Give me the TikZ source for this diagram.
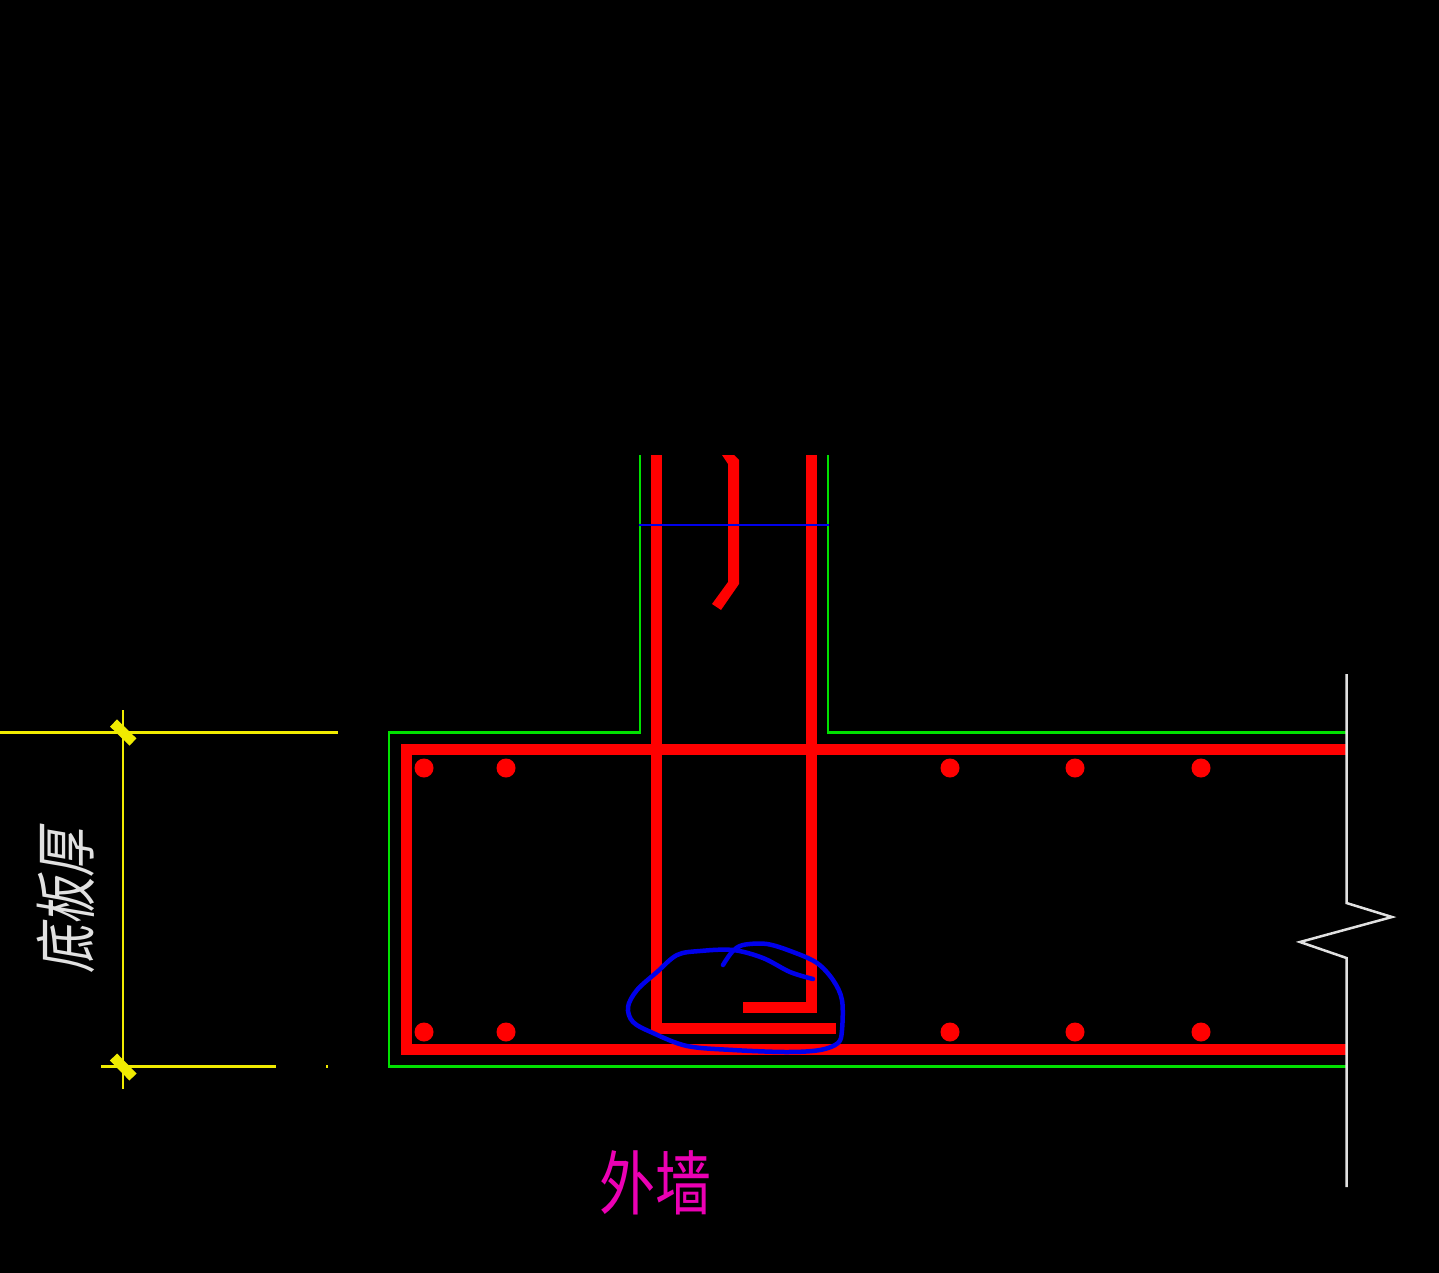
\documentclass[tikz,border=0pt]{standalone}
\usepackage{fontspec}
\newfontfamily\cjkplain{Noto Sans CJK SC}
\newfontfamily\cjkslant[FakeSlant=0.22]{Noto Sans CJK SC}
\definecolor{cadgreen}{RGB}{0,225,0}
\definecolor{cadred}{RGB}{255,0,0}
\definecolor{cadblue}{RGB}{0,0,235}
\definecolor{cadyellow}{RGB}{240,235,0}
\definecolor{cadwhite}{RGB}{225,225,225}
\definecolor{cadmag}{RGB}{235,0,180}
\tikzset{
  outline/.style={draw=cadgreen,line width=2.6pt},
  rebar/.style={draw=cadred,line width=11pt},
  bardot/.style={circle,fill=cadred,inner sep=0pt,minimum size=19pt},
  dimline/.style={draw=cadyellow,line width=2.5pt},
  dimtick/.style={draw=cadyellow,line width=10pt},
  breakline/.style={draw=cadwhite,line width=2.5pt},
  pen/.style={draw=cadblue,line width=4.5pt,line cap=round,line join=round}
}
\begin{document}
\begin{tikzpicture}[x=1pt,y=-1pt]
\useasboundingbox (0,0) rectangle (1439,1273);
\fill[black] (0,0) rectangle (1439,1273);
% concrete outline
\draw[outline] (640,455) -- (640,732.5) -- (389,732.5) -- (389,1066.5) -- (1346,1066.5);
\draw[outline] (828,455) -- (828,732.5) -- (1346,732.5);
% slab reinforcement
\draw[rebar,line join=miter] (1346,749) -- (406.5,749) -- (406.5,1049) -- (1346,1049);
% wall reinforcement
\draw[rebar,line join=miter] (656.5,455) -- (656.5,1028) -- (836,1028);
\draw[rebar,line join=miter] (811.5,455) -- (811.5,1007.5) -- (743,1007.5);
% hook
\fill[cadred] (722,455) -- (734,455) -- (739,460) -- (739,584) -- (721,610) -- (712,604) -- (728,582) -- (728,464) -- cycle;
% blue section line
\draw[draw=cadblue,line width=2pt] (639,524.5) -- (829,524.5);
% bars
\foreach \px/\nm in {424/a,506/b,950/c,1075/d,1201/e}{
  \node[bardot] (top\nm) at (\px,768) {};
  \node[bardot] (bot\nm) at (\px,1032) {};
}
% break line
\draw[breakline] (1346.5,674) -- (1346.5,903) -- (1392,917) -- (1300,942) -- (1346.5,958) -- (1346.5,1187);
% dimension
\draw[dimline] (0,732.5) -- (338,732.5);
\draw[dimline] (101,1066.5) -- (276,1066.5);
\fill[cadyellow] (326,1065) rectangle (328,1067.5);
\draw[dimline] (123,710) -- (123,1089);
\draw[dimtick] (113.5,723) -- (133,742);
\draw[dimtick] (113.5,1057) -- (133,1077);
% hand-drawn mark
\draw[pen] plot[smooth,tension=0.55] coordinates {
 (723,965) (732,952) (743,945) (767,944) (793,952) (817,963) (833,980) (842,1000)
 (842,1030) (838,1043) (820,1050) (787,1052) (733,1050) (687,1046) (653,1033)
 (633,1022) (628,1007) (637,990) (657,972) (677,955) (700,951) (733,950) (763,958)
 (790,972) (813,979)};
% texts
\node[text=cadwhite,rotate=90,inner sep=0pt,font=\cjkslant\fontsize{48pt}{48pt}\selectfont,yscale=1.3] (thick) at (66,901) {底板厚};
\node[text=cadmag,inner sep=0pt,font=\cjkplain\fontsize{56pt}{56pt}\selectfont,yscale=1.25] (wall) at (655,1183) {外墙};
\end{tikzpicture}
\end{document}
